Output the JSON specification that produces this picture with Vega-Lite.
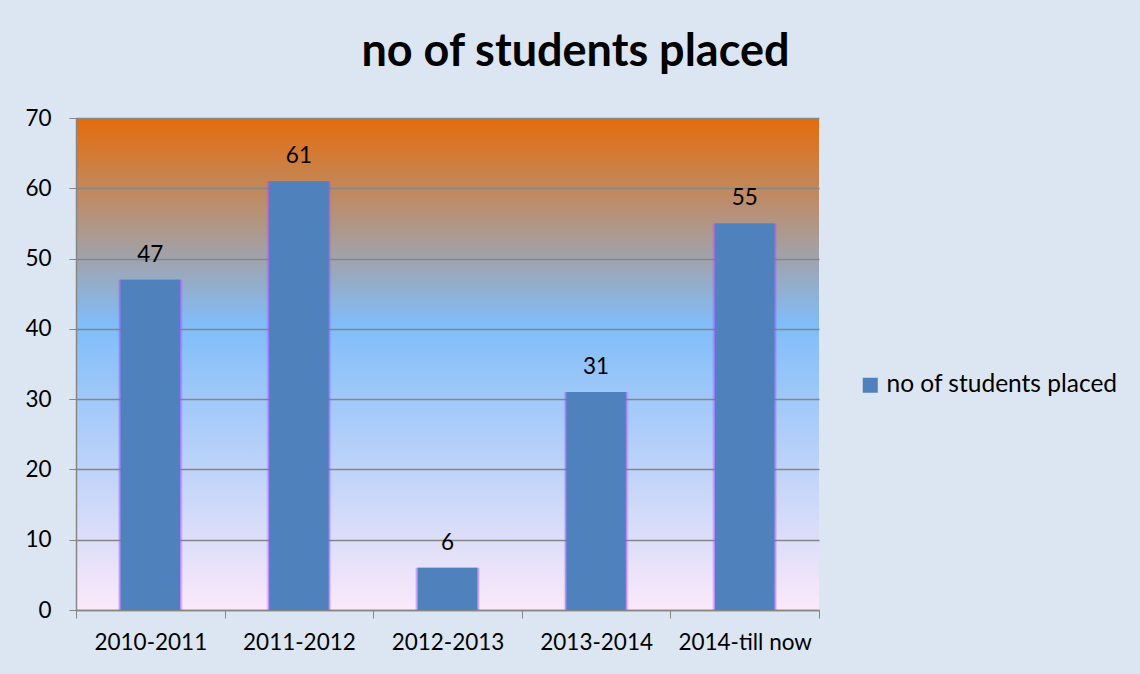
{
  "$schema": "https://vega.github.io/schema/vega-lite/v6.json",
  "width": 743,
  "height": 492,
  "autosize": {"type": "none"},
  "padding": {"left": 76, "top": 118, "right": 321, "bottom": 64},
  "background": "#dce6f2",
  "title": {
    "text": "no of students placed",
    "font": "Lato",
    "fontSize": 45,
    "fontWeight": "bold",
    "color": "#000000",
    "anchor": "middle",
    "frame": "group",
    "dx": 128,
    "baseline": "alphabetic",
    "offset": -4
  },
  "data": {
    "values": [
      {"period": "2010-2011", "placed": 47},
      {"period": "2011-2012", "placed": 61},
      {"period": "2012-2013", "placed": 6},
      {"period": "2013-2014", "placed": 31},
      {"period": "2014-till now", "placed": 55}
    ]
  },
  "encoding": {
    "x": {
      "field": "period",
      "type": "nominal",
      "sort": null,
      "scale": {"paddingInner": 0, "paddingOuter": 0},
      "axis": {
        "title": null,
        "labelAngle": 0,
        "labelFont": "Lato",
        "labelFontSize": 22.5,
        "labelColor": "#000000",
        "tickBand": "extent",
        "tickSize": 8,
        "tickColor": "#868686",
        "domainColor": "#868686",
        "domainWidth": 1.5,
        "labelPadding": 13,
        "grid": false
      }
    },
    "y": {
      "field": "placed",
      "type": "quantitative",
      "scale": {"domain": [0, 70], "nice": false},
      "axis": {
        "title": null,
        "values": [0, 10, 20, 30, 40, 50, 60, 70],
        "labelFont": "Lato",
        "labelFontSize": 22.5,
        "labelColor": "#000000",
        "tickSize": 7,
        "tickColor": "#868686",
        "domainColor": "#868686",
        "domainWidth": 1.5,
        "labelPadding": 18,
        "grid": true,
        "gridColor": "#868686",
        "gridWidth": 1.5
      }
    }
  },
  "layer": [
    {
      "mark": {"type": "bar", "width": {"band": 0.435}, "color": "#a155ff", "opacity": 0.2}
    },
    {
      "mark": {"type": "bar", "width": {"band": 0.418}, "color": "#9b4dff", "opacity": 0.5}
    },
    {
      "mark": {"type": "bar", "width": {"band": 0.4}},
      "encoding": {
        "color": {
          "datum": "no of students placed",
          "type": "nominal",
          "scale": {"range": ["#4f81bd"]},
          "legend": {
            "title": null,
            "orient": "none",
            "legendX": 782,
            "legendY": 255,
            "symbolType": "square",
            "symbolSize": 225,
            "symbolStrokeWidth": 0,
            "symbolOpacity": 1,
            "labelFont": "Lato",
            "labelFontSize": 24.5,
            "labelLimit": 400,
            "labelColor": "#000000",
            "labelOffset": 4
          }
        }
      }
    },
    {
      "mark": {"type": "text", "font": "Lato", "fontSize": 22.5, "color": "#000000", "baseline": "alphabetic", "dy": -18},
      "encoding": {"text": {"field": "placed", "type": "quantitative"}}
    }
  ],
  "config": {
    "view": {
      "stroke": null,
      "fill": {
        "gradient": "linear",
        "x1": 0, "y1": 0, "x2": 0, "y2": 1,
        "stops": [
          {"offset": 0, "color": "#e46c0a"},
          {"offset": 0.42, "color": "#80bdf9"},
          {"offset": 1, "color": "#fbe9f9"}
        ]
      }
    }
  }
}
